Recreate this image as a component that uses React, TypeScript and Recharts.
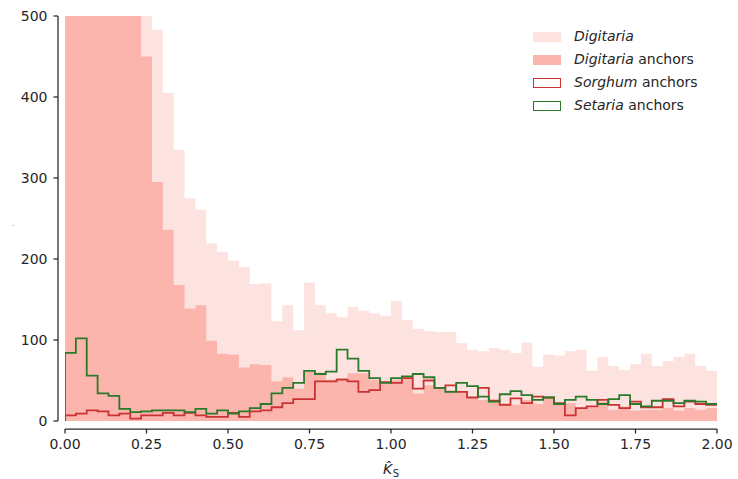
import React from 'react';
import { ComposedChart, Area, Line, XAxis, YAxis, Legend } from 'recharts';

// Histogram bins: 60 bins over [0, 2]
const binCount = 60;
const xMin = 0;
const xMax = 2;

const xTicks = [0, 0.25, 0.5, 0.75, 1.0, 1.25, 1.5, 1.75, 2.0];
const yTicks = [0, 100, 200, 300, 400, 500];

// Digitaria (all)
const digitaria = [
  1400, 1350, 1250, 1100, 950, 820, 700, 580, 483, 405,
  335, 275, 261, 219, 209, 198, 190, 169, 170, 123,
  143, 112, 171, 143, 133, 128, 141, 136, 133, 130,
  148, 125, 114, 111, 110, 110, 96, 88, 86, 90,
  88, 84, 97, 67, 82, 81, 86, 88, 62, 79,
  68, 63, 70, 83, 68, 74, 79, 83, 68, 62,
];

// Digitaria anchors
const digitariaAnchors = [
  1300, 1250, 1150, 1000, 850, 700, 560, 450, 295, 236,
  168, 139, 143, 99, 83, 82, 66, 70, 69, 49,
  54, 40, 61, 60, 51, 53, 59, 59, 51, 49,
  51, 54, 34, 44, 41, 38, 36, 28, 26, 24,
  22, 20, 26, 21, 28, 22, 22, 16, 17, 24,
  14, 18, 13, 14, 14, 16, 13, 16, 14, 16,
];

// Sorghum anchors
const sorghumAnchors = [
  7, 9, 13, 12, 7, 9, 3, 7, 7, 10,
  7, 10, 7, 5, 5, 10, 5, 12, 13, 17,
  22, 27, 27, 49, 49, 51, 49, 36, 38, 48,
  47, 53, 40, 50, 41, 44, 36, 29, 41, 25,
  20, 28, 22, 30, 29, 22, 7, 16, 18, 26,
  20, 16, 24, 17, 17, 27, 18, 24, 21, 20,
];

// Setaria anchors
const setariaAnchors = [
  84, 102, 56, 34, 31, 15, 11, 12, 13, 13,
  13, 11, 15, 9, 13, 9, 12, 16, 21, 34,
  41, 47, 62, 58, 61, 88, 77, 62, 53, 47,
  53, 55, 58, 54, 41, 36, 47, 43, 30, 24,
  33, 37, 32, 26, 29, 21, 26, 30, 26, 21,
  27, 32, 21, 18, 25, 25, 22, 25, 24, 21,
];

const legendItems = [
  { italic: 'Digitaria', rest: '', kind: 'fill', color: '#fde3e0', stroke: '#fde3e0' },
  { italic: 'Digitaria', rest: ' anchors', kind: 'fill', color: '#fbb5ad', stroke: '#fbb5ad' },
  { italic: 'Sorghum', rest: ' anchors', kind: 'line', color: '#ffffff', stroke: '#c93333' },
  { italic: 'Setaria', rest: ' anchors', kind: 'line', color: '#ffffff', stroke: '#2b7a2b' },
];

const COL_LIGHT = '#fde3e0';
const COL_DARK = '#fbb5ad';
const COL_RED = '#c93333';
const COL_GREEN = '#2b7a2b';
const INK = '#262626';
const FONT = 'DejaVu Sans';

const binWidth = (xMax - xMin) / binCount;
const rows: any[] = [{ x: xMin, digitaria: 0, digitariaAnchors: 0, sorghum: 0, setaria: 0 }];
for (let i = 0; i < binCount; i++) {
  rows.push({
    x: xMin + i * binWidth,
    digitaria: digitaria[i],
    digitariaAnchors: digitariaAnchors[i],
    sorghum: sorghumAnchors[i],
    setaria: setariaAnchors[i],
  });
}
rows.push({
  x: xMax,
  digitaria: digitaria[binCount - 1],
  digitariaAnchors: digitariaAnchors[binCount - 1],
  sorghum: sorghumAnchors[binCount - 1],
  setaria: setariaAnchors[binCount - 1],
});

function XLabel(props: any) {
  const vb = props.viewBox || { x: 65, y: 421, width: 652, height: 58 };
  const cx = vb.x + vb.width / 2;
  const base = vb.y + 53;
  return (
    <text x={cx - 8} y={base} fill={INK} fontFamily={FONT} fontSize={14}>
      <tspan fontStyle="italic">{'K\u0302'}</tspan>
      <tspan dx={0.5} dy={3} fontSize={10}>S</tspan>
    </text>
  );
}

function YLabel() {
  return (
    <text x={12} y={226} fontSize={8} fill="#888" fontFamily={FONT}>.</text>
  );
}

function LegendBox() {
  return (
    <div style={{ fontFamily: FONT, fontSize: 14, color: INK, lineHeight: '23px' }}>
      {legendItems.map((it, i) => (
        <div key={i} style={{ display: 'flex', alignItems: 'center', height: 23, whiteSpace: 'nowrap' }}>
          <span
            style={{
              display: 'inline-block',
              width: 28,
              height: 10,
              boxSizing: 'border-box',
              background: it.color,
              border: `${it.kind === 'line' ? 1.8 : 0}px solid ${it.stroke}`,
              marginRight: 13,
            }}
          />
          <span>
            <i>{it.italic}</i>
            {it.rest}
          </span>
        </div>
      ))}
    </div>
  );
}

export default function App() {
  return (
    <div style={{ position: 'absolute', left: 0, top: 0, width: 738, height: 479, background: '#fff' }}>
      <ComposedChart
        width={738}
        height={479}
        data={rows}
        margin={{ top: 16, right: 21, left: 0, bottom: 0 }}
      >
        <XAxis
          type="number"
          dataKey="x"
          domain={[xMin, xMax]}
          ticks={xTicks}
          allowDataOverflow
          height={58}
          tickFormatter={(v: number) => v.toFixed(2)}
          axisLine={{ stroke: INK, strokeWidth: 1.25, transform: 'translate(0,8)' }}
          tickLine={{ stroke: INK, strokeWidth: 1.25, transform: 'translate(0,8)' }}
          tickSize={4.5}
          tickMargin={14}
          tick={{ fill: INK, fontSize: 14, fontFamily: FONT }}
          label={<XLabel />}
        />
        <YAxis
          type="number"
          domain={[0, 500]}
          ticks={yTicks}
          allowDataOverflow
          width={65}
          axisLine={{ stroke: INK, strokeWidth: 1.25, transform: 'translate(-7,0)' }}
          tickLine={{ stroke: INK, strokeWidth: 1.25, transform: 'translate(-7,0)' }}
          tickSize={4.5}
          tickMargin={13}
          tick={{ fill: INK, fontSize: 14, fontFamily: FONT }}
          label={<YLabel />}
        />
        <Area
          type="stepAfter"
          dataKey="digitaria"
          stroke="none"
          fill={COL_LIGHT}
          fillOpacity={1}
          isAnimationActive={false}
          dot={false}
          activeDot={false}
        />
        <Area
          type="stepAfter"
          dataKey="digitariaAnchors"
          stroke="none"
          fill={COL_DARK}
          fillOpacity={1}
          isAnimationActive={false}
          dot={false}
          activeDot={false}
        />
        <Line
          type="stepAfter"
          dataKey="sorghum"
          stroke={COL_RED}
          strokeWidth={1.8}
          dot={false}
          activeDot={false}
          isAnimationActive={false}
        />
        <Line
          type="stepAfter"
          dataKey="setaria"
          stroke={COL_GREEN}
          strokeWidth={1.8}
          dot={false}
          activeDot={false}
          isAnimationActive={false}
        />
        <Legend
          layout="vertical"
          align="center"
          verticalAlign="middle"
          wrapperStyle={{ left: 533, top: 25, width: 200, height: 92 }}
          content={() => <LegendBox />}
        />
      </ComposedChart>
    </div>
  );
}
